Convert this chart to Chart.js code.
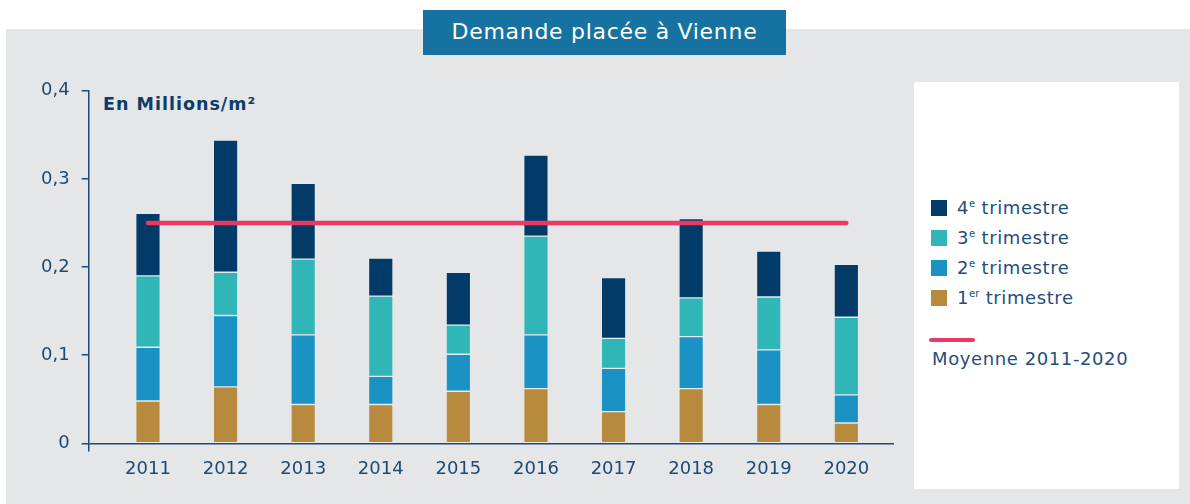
<!DOCTYPE html>
<html>
<head>
<meta charset="utf-8">
<script src="https://cdn.jsdelivr.net/npm/chart.js@4.4.0/dist/chart.umd.min.js"></script>
<style>
  html, body { margin: 0; padding: 0; background: #fff; }
  body { width: 1190px; height: 504px; position: relative; overflow: hidden; font-family: "DejaVu Sans", sans-serif; }
  #panel { position: absolute; left: 6px; top: 29px; width: 1184px; height: 475px; background: #e5e6e8; }
  #title { position: absolute; left: 423px; top: 10px; width: 363px; height: 45px; background: #1672a0; color: #fff;
           font-size: 22px; letter-spacing: 0.7px; line-height: 44px; text-align: center; }
  #unit { position: absolute; left: 103px; top: 94px; color: #0e3c68; font-size: 17.5px; font-weight: bold; letter-spacing: 1px; }
  #legend { position: absolute; left: 914px; top: 82px; width: 265px; height: 407px; background: #fff; }
  .item { position: absolute; left: 17px; height: 20px; color: #1f4e7a; font-size: 18px; letter-spacing: 0.6px; line-height: 20px; }
  .item i { position: absolute; left: 0; top: 2px; width: 16px; height: 16px; }
  .item span { position: absolute; left: 26px; top: 0; white-space: nowrap; }
  .item sup { font-size: 10px; letter-spacing: 0; vertical-align: 7px; line-height: 0; }
  #avgLine { position: absolute; left: 15px; top: 256px; width: 46px; height: 4px; border-radius: 2px; }
  #avgText { position: absolute; left: 18px; top: 266px; color: #1f4e7a; font-size: 18px; letter-spacing: 0.6px; white-space: nowrap; }
  #wrap { position: absolute; left: 0; top: 0; width: 910px; height: 504px; }
</style>
</head>
<body>
<div id="panel"></div>
<div id="title">Demande placée à Vienne</div>
<div id="legend"></div>
<div id="unit">En Millions/m²</div>
<div id="wrap"><canvas id="chart"></canvas></div>
<script>
// données (millions de m²)
const years = [2011, 2012, 2013, 2014, 2015, 2016, 2017, 2018, 2019, 2020];
const q1 = [0.048, 0.064, 0.044, 0.044, 0.059, 0.062, 0.036, 0.062, 0.044, 0.023];
const q2 = [0.061, 0.081, 0.079, 0.032, 0.042, 0.061, 0.049, 0.059, 0.062, 0.032];
const q3 = [0.081, 0.049, 0.086, 0.091, 0.033, 0.112, 0.034, 0.044, 0.060, 0.088];
const q4 = [0.071, 0.150, 0.086, 0.043, 0.060, 0.092, 0.069, 0.090, 0.052, 0.060];
const moyenne = 0.25;
const yTicks = [0, 0.1, 0.2, 0.3, 0.4];

const quarterNum = ['1', '2', '3', '4'];
const quarterSup = ['er', 'e', 'e', 'e'];
const quarterColors = ['#b88a3d', '#1a92c3', '#31b6b7', '#023b67'];
const avgLabel = 'Moyenne 2011-2020';
const avgColor = '#ea3a63';
const navy = '#1b4a77';

// légende html (exposants)
const legend = document.getElementById('legend');
for (let i = 3; i >= 0; i--) {
    const row = document.createElement('div');
    row.className = 'item';
    row.style.top = (116 + (3 - i) * 30) + 'px';
    row.innerHTML = '<i style="background:' + quarterColors[i] + '"></i><span>' + quarterNum[i] +
        '<sup>' + quarterSup[i] + '</sup> trimestre</span>';
    legend.appendChild(row);
}
legend.insertAdjacentHTML('beforeend',
    '<div id="avgLine" style="background:' + avgColor + '"></div><div id="avgText">' + avgLabel + '</div>');

Chart.defaults.font.family = '"DejaVu Sans", sans-serif';
Chart.defaults.color = navy;

const quarters = [q1, q2, q3, q4];
const datasets = quarters.map((vals, i) => ({
    type: 'bar',
    label: quarterNum[i] + quarterSup[i] + ' trimestre',
    data: vals,
    stack: 'q',
    order: 1,
    backgroundColor: quarterColors[i],
    borderColor: 'rgba(255,255,255,0.15)',
    borderWidth: 1,
    borderSkipped: false,
    barThickness: 24.5
}));
datasets.push({
    type: 'line',
    label: avgLabel,
    data: [{x: years[0], y: moyenne}, {x: years[years.length - 1], y: moyenne}],
    order: 0,
    borderColor: avgColor,
    borderWidth: 4.5,
    borderCapStyle: 'round',
    pointRadius: 0,
    fill: false
});

new Chart(document.getElementById('chart'), {
    type: 'bar',
    data: { labels: years, datasets: datasets },
    options: {
        responsive: true,
        maintainAspectRatio: false,
        animation: false,
        layout: { padding: { left: 18.7, right: 16, top: 90.7, bottom: 0 } },
        plugins: { legend: { display: false }, tooltip: { enabled: false } },
        scales: {
            x: {
                type: 'linear',
                min: 2010.236,
                max: 2020.614,
                offset: false,
                grid: { display: false, drawTicks: false },
                border: { display: false },
                afterBuildTicks: s => { s.ticks = years.map(v => ({ value: v })); },
                afterFit: s => { s.height = 53.65; },
                ticks: {
                    padding: 8,
                    color: navy,
                    font: { size: 18 },
                    callback: v => String(v)
                }
            },
            y: {
                stacked: true,
                min: -0.008,
                max: 0.4,
                afterBuildTicks: s => { s.ticks = yTicks.map(v => ({ value: v })); },
                afterFit: s => { s.width = 70; },
                grid: {
                    drawOnChartArea: true,
                    drawTicks: true,
                    tickLength: 7,
                    tickColor: navy,
                    tickWidth: 1.5,
                    lineWidth: 1.5,
                    color: c => (c.tick && c.tick.value === 0) ? navy : 'transparent'
                },
                border: { display: true, color: navy, width: 1.5 },
                ticks: {
                    padding: 12,
                    color: navy,
                    font: { size: 18 },
                    callback: v => v === 0 ? '0' : v.toFixed(1).replace('.', ',')
                }
            }
        }
    }
});
</script>
</body>
</html>
